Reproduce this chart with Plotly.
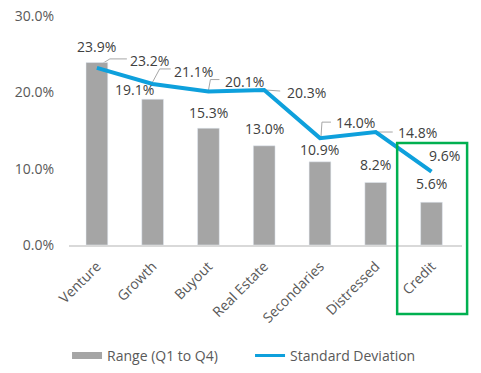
import plotly.graph_objects as go

categories = ["Venture", "Growth", "Buyout", "Real Estate", "Secondaries", "Distressed", "Credit"]
range_q1_q4 = [0.239, 0.191, 0.153, 0.130, 0.109, 0.082, 0.056]
std_dev = [0.232, 0.211, 0.201, 0.203, 0.140, 0.148, 0.096]

# label placement offsets (pixels: dx right, dy up)
bar_label_offsets = [(0, 16), (-18, 10), (0, 16), (0, 17), (0, 12), (0, 18), (0, 19)]
line_label_offsets = [(53, 7), (41, 12), (36, 10), (42, -2), (36, 16), (42, 0), (13, 16)]
leader_paths = ["M0,1 L13,9 L30,9", "M0,2 L7,15 L18,15", "M0,1 L2,12 L11,12",
                "M2,0 L16,-1", "M1,1 L2,16 L11,16", "M1,0 L17,0", None]

FONT = "Open Sans"
TXT = "#595959"
LBL = "#404040"
BAR = "#A5A5A5"
LINE = "#0EA0DC"

fig = go.Figure()
fig.add_trace(go.Bar(x=categories, y=range_q1_q4, marker_color=BAR, showlegend=False,
                     hoverinfo="skip"))
fig.add_trace(go.Scatter(x=categories, y=std_dev, mode="lines",
                         line=dict(color=LINE, width=4), showlegend=False))
# legend entries
fig.add_trace(go.Scatter(x=[None], y=[None], mode="lines", name="Range (Q1 to Q4)",
                         line=dict(color=BAR, width=7)))
fig.add_trace(go.Scatter(x=[None], y=[None], mode="lines", name="Standard Deviation",
                         line=dict(color=LINE, width=3)))

annotations = []
shapes = []
for i, c in enumerate(categories):
    dx, dy = bar_label_offsets[i]
    annotations.append(dict(x=c, y=range_q1_q4[i], xref="x", yref="y",
                            text=f"{range_q1_q4[i]*100:.1f}%", showarrow=False,
                            xshift=dx, yshift=dy, xanchor="center", yanchor="middle",
                            font=dict(family=FONT, size=14, color=LBL)))
    dx, dy = line_label_offsets[i]
    annotations.append(dict(x=c, y=std_dev[i], xref="x", yref="y",
                            text=f"{std_dev[i]*100:.1f}%", showarrow=False,
                            xshift=dx, yshift=dy, xanchor="center", yanchor="middle",
                            font=dict(family=FONT, size=14, color=LBL)))
    if leader_paths[i]:
        shapes.append(dict(type="path", xref="x", yref="y", xsizemode="pixel",
                           ysizemode="pixel", xanchor=c, yanchor=std_dev[i],
                           path=leader_paths[i], line=dict(color="#A6A6A6", width=1),
                           layer="below"))

# green highlight box around Credit
shapes.append(dict(type="rect", xref="paper", yref="paper",
                   x0=0.835, x1=1.013, y0=-0.301, y1=0.445,
                   line=dict(color="#00B050", width=2.5), fillcolor="rgba(0,0,0,0)"))

fig.update_layout(
    width=481, height=373,
    margin=dict(l=69, r=19, t=16, b=128, autoexpand=False),
    paper_bgcolor="white", plot_bgcolor="white",
    bargap=0.61,
    font=dict(family=FONT, size=14, color=TXT),
    xaxis=dict(showgrid=False, showline=True, linecolor="#D9D9D9", linewidth=1.5,
               ticks="", tickangle=-45, automargin=False, ticklabelstandoff=6,
               tickfont=dict(family=FONT, size=14, color=TXT)),
    yaxis=dict(range=[0, 0.3], dtick=0.1, tickformat=".1%", showgrid=False,
               zeroline=False, showline=False, ticks="", ticklabelstandoff=14,
               automargin=False, tickfont=dict(family=FONT, size=14, color=TXT)),
    legend=dict(orientation="h", x=-0.005, xanchor="left", y=-0.484, yanchor="middle",
                entrywidth=138,
                font=dict(family=FONT, size=14, color=TXT)),
    annotations=annotations,
    shapes=shapes,
)

fig.write_html("out.html", config={"displayModeBar": False},
               post_script="document.body.style.margin='0';document.body.style.overflow='hidden';")
